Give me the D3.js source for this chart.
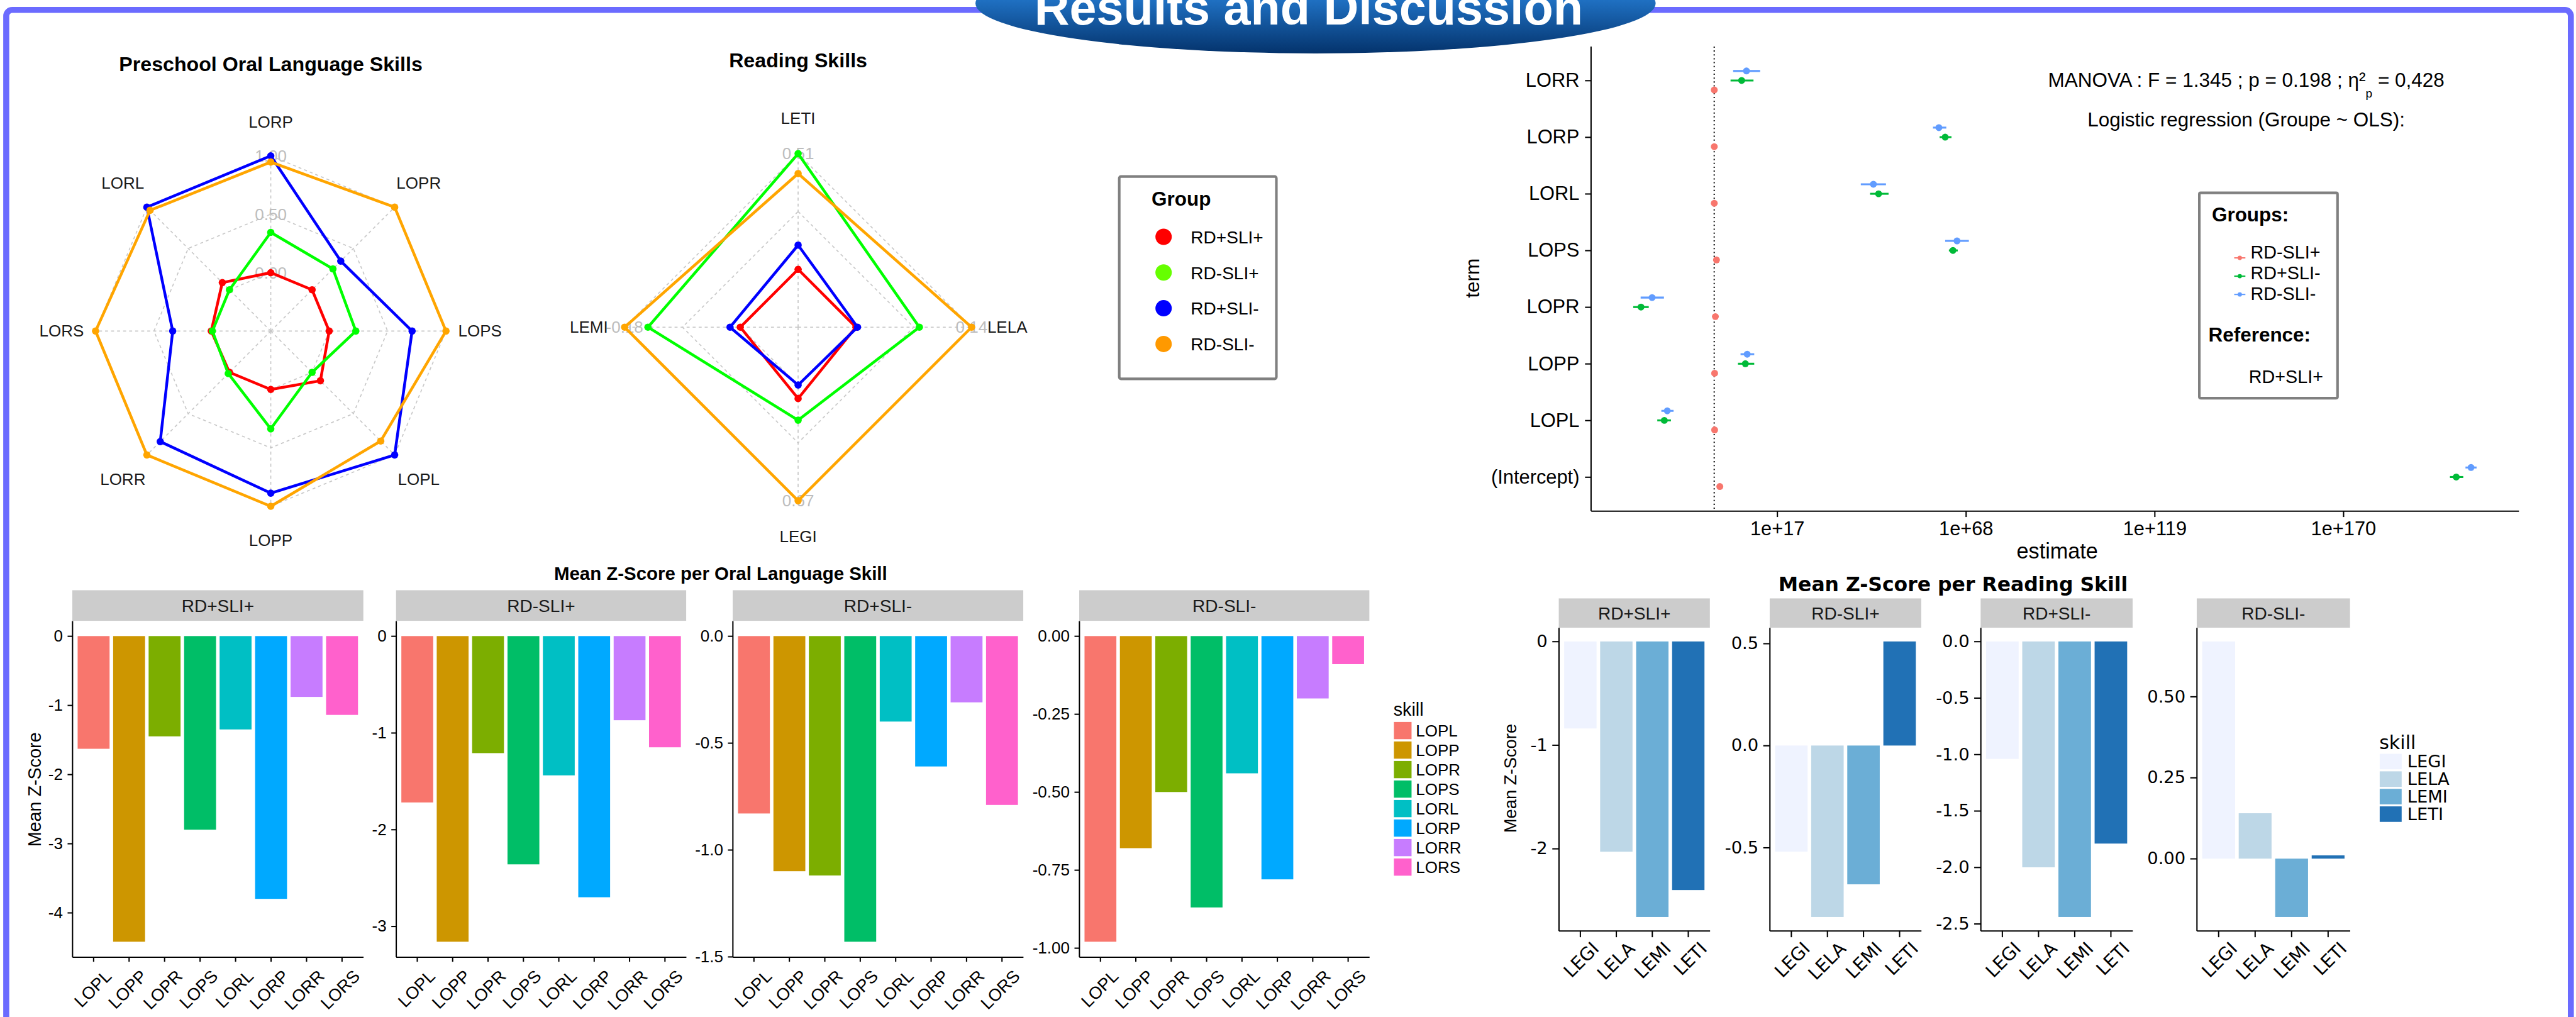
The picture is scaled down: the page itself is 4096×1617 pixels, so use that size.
<!DOCTYPE html>
<html>
<head>
<meta charset="utf-8">
<script src="https://cdn.jsdelivr.net/npm/d3@7"></script>
<style>
  html, body { margin: 0; padding: 0; background: #fff; overflow: hidden; }
  svg { display: block; }
</style>
</head>
<body>
<svg id="poster" width="4096" height="1617"></svg>
<script>
// ---------------- data ----------------
const groups = ["RD+SLI+", "RD-SLI+", "RD+SLI-", "RD-SLI-"];
const radarColors = ["#ff0000", "#00ff00", "#0000ff", "#ffa500"];
const legendDotColors = ["#ff0000", "#66ff00", "#0000ff", "#ff9900"];

// mean z-scores, oral language skills
const oralSkills = ["LOPL", "LOPP", "LOPR", "LOPS", "LORL", "LORP", "LORR", "LORS"];
const oralColors = ["#F8766D", "#CD9600", "#7CAE00", "#00BE67", "#00BFC4", "#00A9FF", "#C77CFF", "#FF61CC"];
const oralRDpSLIp = [-1.63, -4.42, -1.45, -2.80, -1.35, -3.80, -0.88, -1.14];
const oralRDmSLIp = [-1.72, -3.16, -1.21, -2.36, -1.44, -2.70, -0.87, -1.15];
const oralRDpSLIm = [-0.83, -1.10, -1.12, -1.43, -0.40, -0.61, -0.31, -0.79];
const oralRDmSLIm = [-0.98, -0.68, -0.50, -0.87, -0.44, -0.78, -0.20, -0.09];
const oralTicksP1 = ["0", "-1", "-2", "-3", "-4"];
const oralTicksP2 = ["0", "-1", "-2", "-3"];
const oralTicksP3 = ["0.0", "-0.5", "-1.0", "-1.5"];
const oralTicksP4 = ["0.00", "-0.25", "-0.50", "-0.75", "-1.00"];

// mean z-scores, reading skills
const readSkills = ["LEGI", "LELA", "LEMI", "LETI"];
const readColors = ["#EFF3FF", "#BDD7E7", "#6BAED6", "#2171B5"];
const readRDpSLIp = [-0.84, -2.03, -2.66, -2.40];
const readRDmSLIp = [-0.52, -0.84, -0.68, 0.51];
const readRDpSLIm = [-1.04, -2.00, -2.44, -1.79];
const readRDmSLIm = [0.67, 0.14, -0.18, 0.01];
const readTicksP1 = ["0", "-1", "-2"];
const readTicksP2 = ["0.5", "0.0", "-0.5"];
const readTicksP3 = ["0.0", "-0.5", "-1.0", "-1.5", "-2.0", "-2.5"];
const readTicksP4 = ["0.00", "0.25", "0.50"];

// radar axis order (clockwise from the top)
const oralRadarAxes = ["LORP", "LOPR", "LOPS", "LOPL", "LOPP", "LORR", "LORS", "LORL"];
const readRadarAxes = ["LETI", "LELA", "LEGI", "LEMI"];
const oralRadarGridLabels = ["0.00", "0.50", "1.00"];

// logistic regression: log10 of the estimates with their intervals
const terms = ["(Intercept)", "LOPL", "LOPP", "LOPR", "LOPS", "LORL", "LORP", "LORR"];
const forestGroups = ["RD-SLI+", "RD+SLI-", "RD-SLI-"];
const forestColors = ["#F8766D", "#00BA38", "#619CFF"];
const estRDmSLIp = [1.5, 0.1, 0.1, 0.3, 0.6, 0.0, 0.0, 0.0];
const loRDmSLIp  = [1.4, 0.0, 0.0, 0.2, 0.5, -0.1, -0.1, -0.1];
const hiRDmSLIp  = [1.6, 0.2, 0.2, 0.4, 0.7, 0.1, 0.1, 0.1];
const estRDpSLIm = [200.5, -13.5, 8.4, -19.8, 64.5, 44.4, 62.4, 7.4];
const loRDpSLIm  = [198.8, -15.4, 6.4, -21.9, 63.4, 42.1, 60.9, 4.4];
const hiRDpSLIm  = [202.4, -11.7, 10.8, -17.7, 65.8, 47.1, 64.1, 10.6];
const estRDmSLIm = [204.5, -12.7, 8.9, -16.8, 65.6, 43.0, 60.7, 8.7];
const loRDmSLIm  = [203.0, -14.3, 7.1, -19.9, 62.4, 39.6, 59.1, 5.1];
const hiRDmSLIm  = [206.0, -11.0, 10.8, -13.6, 68.8, 46.4, 62.7, 12.4];
const forestTickLabels = ["1e+17", "1e+68", "1e+119", "1e+170"];

// ---------------- setup ----------------
const K = 4096 / 5984;
const SANS = "'Liberation Sans', Arial, Helvetica, sans-serif";
const WIDE = "'DejaVu Sans', Verdana, sans-serif";
const svg = d3.select("#poster");
const defs = svg.append("defs");
const root = svg.append("g").attr("transform", `scale(${K})`);

function txt(g, x, y, s, size, opts = {}) {
  return g.append("text")
    .attr("x", x).attr("y", y)
    .attr("font-family", opts.family || SANS)
    .attr("font-size", size)
    .attr("font-weight", opts.weight || "normal")
    .attr("text-anchor", opts.anchor || "start")
    .attr("dominant-baseline", opts.baseline || "auto")
    .attr("fill", opts.fill || "#000")
    .text(s);
}

// ---------------- frame and banner ----------------
root.append("rect")
  .attr("x", 14.5).attr("y", 23).attr("width", 5957.5).attr("height", 2420)
  .attr("rx", 14).attr("fill", "none")
  .attr("stroke", "#6b6bff").attr("stroke-width", 14);

const grad = defs.append("linearGradient").attr("id", "bannerFill")
  .attr("gradientUnits", "userSpaceOnUse")
  .attr("x1", 0).attr("y1", 0).attr("x2", 0).attr("y2", 124);
grad.append("stop").attr("offset", "0%").attr("stop-color", "#1f70c2");
grad.append("stop").attr("offset", "100%").attr("stop-color", "#04336c");
root.append("ellipse")
  .attr("cx", 3056).attr("cy", 8).attr("rx", 790).attr("ry", 116)
  .attr("fill", "url(#bannerFill)");
txt(root, 3040, 57, "Results and Discussion", 113, { weight: "bold", anchor: "middle", fill: "#fff" });

// ---------------- radar charts ----------------
function rescaleColumns(axes, skills, series) {
  // each axis is rescaled to 0..1 over the four groups
  return series.map(vals => axes.map(a => {
    const k = skills.indexOf(a);
    const col = series.map(s => s[k]);
    const lo = d3.min(col), hi = d3.max(col);
    return (vals[k] - lo) / (hi - lo);
  }));
}

function drawRadar(opt) {
  const g = root.append("g");
  const { cx, cy, R, axes, data, title, titleY } = opt;
  const n = axes.length;
  const r = d3.scaleLinear().domain([-0.5, 1]).range([0, R]);
  const ang = i => i * 2 * Math.PI / n;
  const pt = (i, rad) => [cx + rad * Math.sin(ang(i)), cy - rad * Math.cos(ang(i))];

  txt(g, cx, titleY, title, 47, { weight: "bold", anchor: "middle" });

  // grid
  [0, 0.5, 1].forEach(v => {
    g.append("path")
      .attr("d", d3.line().curve(d3.curveLinearClosed)(d3.range(n).map(i => pt(i, r(v)))))
      .attr("fill", "none").attr("stroke", "#c8c8c8").attr("stroke-width", 2.4)
      .attr("stroke-dasharray", "7 7");
  });
  d3.range(n).forEach(i => {
    const [x2, y2] = pt(i, R);
    g.append("line").attr("x1", cx).attr("y1", cy).attr("x2", x2).attr("y2", y2)
      .attr("stroke", "#c8c8c8").attr("stroke-width", 2.4).attr("stroke-dasharray", "7 7");
  });

  // grid labels
  opt.gridLabels.forEach(gl => {
    const [x, y] = pt(gl.axis, r(gl.v));
    txt(g, x, y, gl.text, 38, { anchor: "middle", baseline: "central", fill: "#bdbdbd" });
  });

  // axis labels
  axes.forEach((a, i) => {
    const [x, y] = pt(i, 486);
    txt(g, x, y, a, 38, { anchor: "middle", baseline: "central", fill: "#1a1a1a" });
  });

  // group polygons
  data.forEach((vals, gi) => {
    const pts = vals.map((v, i) => pt(i, r(v)));
    g.append("path")
      .attr("d", d3.line().curve(d3.curveLinearClosed)(pts))
      .attr("fill", "none").attr("stroke", radarColors[gi]).attr("stroke-width", 6.5)
      .attr("stroke-linejoin", "round");
    g.selectAll(null).data(pts).join("circle")
      .attr("cx", d => d[0]).attr("cy", d => d[1]).attr("r", 8.5)
      .attr("fill", radarColors[gi]);
  });
}

const oralSeries = [oralRDpSLIp, oralRDmSLIp, oralRDpSLIm, oralRDmSLIm];
const readSeries = [readRDpSLIp, readRDmSLIp, readRDpSLIm, readRDmSLIm];

drawRadar({
  cx: 629, cy: 769, R: 407, axes: oralRadarAxes,
  data: rescaleColumns(oralRadarAxes, oralSkills, oralSeries),
  title: "Preschool Oral Language Skills", titleY: 165,
  gridLabels: oralRadarGridLabels.map(s => ({ axis: 0, v: +s, text: s }))
});

drawRadar({
  cx: 1854, cy: 760, R: 403, axes: readRadarAxes,
  data: rescaleColumns(readRadarAxes, readSkills, readSeries),
  title: "Reading Skills", titleY: 156,
  gridLabels: readRadarAxes.map((a, i) => {
    const k = readSkills.indexOf(a);
    return { axis: i, v: 1, text: d3.max(readSeries, s => s[k]).toFixed(2) };
  })
});

// group legend
{
  const g = root.append("g");
  g.append("rect").attr("x", 2600).attr("y", 410).attr("width", 365).attr("height", 470)
    .attr("rx", 4).attr("fill", "#fff").attr("stroke", "#808080").attr("stroke-width", 6);
  txt(g, 2675, 477, "Group", 46, { weight: "bold" });
  groups.forEach((gr, i) => {
    const y = 550 + i * 83;
    g.append("circle").attr("cx", 2703).attr("cy", y).attr("r", 19).attr("fill", legendDotColors[i]);
    txt(g, 2766, y + 15, gr, 41);
  });
}

// ---------------- bar panels ----------------
function styleAxis(a, size, family) {
  a.attr("font-size", size).attr("font-family", family).attr("color", "#000");
  a.selectAll("path, line").attr("stroke-width", 3);
}

function barPanel(opt) {
  const g = root.append("g");
  const { x0, x1, top, bottom, stripTop, cats, colors, values, label, ticks } = opt;
  const x = d3.scaleBand().domain(cats).range([x0, x1]).paddingInner(0.1).paddingOuter(0.15);
  const lo = Math.min(0, d3.min(values)), hi = Math.max(0, d3.max(values));
  const pad = (hi - lo) * 0.05;
  const y = d3.scaleLinear().domain([lo - pad, hi + pad]).range([bottom, top]);

  g.append("rect").attr("x", x0).attr("y", stripTop).attr("width", x1 - x0)
    .attr("height", top - stripTop).attr("fill", "#cccccc");
  txt(g, (x0 + x1) / 2, (stripTop + top) / 2 + 15, label, 41, { anchor: "middle", fill: "#1a1a1a" });

  g.selectAll(null).data(cats).join("rect")
    .attr("x", d => x(d)).attr("width", x.bandwidth())
    .attr("y", (d, i) => y(Math.max(0, values[i])))
    .attr("height", (d, i) => Math.abs(y(values[i]) - y(0)))
    .attr("fill", (d, i) => colors[i]);

  const ya = g.append("g").attr("transform", `translate(${x0},0)`)
    .call(d3.axisLeft(y).tickValues(ticks.map(Number)).tickFormat((d, i) => ticks[i])
      .tickSize(opt.tickLen).tickPadding(opt.tickPad).tickSizeOuter(0));
  styleAxis(ya, opt.tickSize, opt.tickFamily);

  const xa = g.append("g").attr("transform", `translate(0,${bottom})`)
    .call(d3.axisBottom(x).tickSize(opt.tickLen).tickSizeOuter(0));
  styleAxis(xa, opt.xSize, opt.tickFamily);
  xa.selectAll(".tick text")
    .attr("y", 0).attr("dy", 0).attr("text-anchor", "end")
    .attr("transform", `translate(${opt.labDx},${opt.labDy}) rotate(-45)`);
}

// oral language panels
const oralPanels = [[168, 844], [920, 1594], [1702, 2377], [2507, 3181]];
const oralTicks = [oralTicksP1, oralTicksP2, oralTicksP3, oralTicksP4];
oralSeries.forEach((vals, i) => barPanel({
  x0: oralPanels[i][0], x1: oralPanels[i][1], top: 1442, bottom: 2223, stripTop: 1371,
  cats: oralSkills, colors: oralColors, values: vals, label: groups[i], ticks: oralTicks[i],
  tickLen: 11, tickPad: 11, tickSize: 38, xSize: 40, tickFamily: SANS, labDx: 44, labDy: 47
}));
txt(root, 1674, 1347, "Mean Z-Score per Oral Language Skill", 43, { weight: "bold", anchor: "middle" });
txt(root, 0, 0, "Mean Z-Score", 42, { anchor: "middle", baseline: "central" })
  .attr("transform", "translate(81,1834) rotate(-90)");
{
  const g = root.append("g");
  txt(g, 3237, 1662, "skill", 42);
  oralSkills.forEach((s, i) => {
    const y = 1677 + i * 45.3;
    g.append("rect").attr("x", 3238).attr("y", y).attr("width", 41).attr("height", 40).attr("fill", oralColors[i]);
    txt(g, 3289, y + 34, s, 38);
  });
}

// reading panels
const readPanels = [[3621, 3972], [4111, 4463], [4601, 4954], [5103, 5459]];
const readTicks = [readTicksP1, readTicksP2, readTicksP3, readTicksP4];
readSeries.forEach((vals, i) => barPanel({
  x0: readPanels[i][0], x1: readPanels[i][1], top: 1458, bottom: 2162, stripTop: 1390,
  cats: readSkills, colors: readColors, values: vals, label: groups[i], ticks: readTicks[i],
  tickLen: 15, tickPad: 11, tickSize: 40, xSize: 42, tickFamily: WIDE, labDx: 46, labDy: 44
}));
txt(root, 4537, 1373, "Mean Z-Score per Reading Skill", 46, { weight: "bold", anchor: "middle", family: WIDE });
txt(root, 0, 0, "Mean Z-Score", 40, { anchor: "middle", baseline: "central" })
  .attr("transform", "translate(3508,1808) rotate(-90)");
{
  const g = root.append("g");
  txt(g, 5527, 1740, "skill", 44, { family: WIDE });
  readSkills.forEach((s, i) => {
    const y = 1751 + i * 40.7;
    g.append("rect").attr("x", 5528).attr("y", y).attr("width", 51).attr("height", 36).attr("fill", readColors[i]);
    txt(g, 5592, y + 32, s, 40, { family: WIDE });
  });
}

// ---------------- logistic regression estimates ----------------
{
  const g = root.append("g");
  const left = 3696, right = 5851, top = 108, bottom = 1187;
  const est = [estRDmSLIp, estRDpSLIm, estRDmSLIm];
  const lo = [loRDmSLIp, loRDpSLIm, loRDmSLIm];
  const hi = [hiRDmSLIp, hiRDpSLIm, hiRDmSLIm];
  const eMin = d3.min(lo.flat()), eMax = d3.max(hi.flat());
  const pad = (eMax - eMin) * 0.05;
  const x = d3.scaleLog().domain([10 ** (eMin - pad), 10 ** (eMax + pad)]).range([left, right]);
  const y = d3.scalePoint().domain(terms).range([bottom, top]).padding(0.6);
  const dodge = y.step() * 0.168;

  // reference line at an estimate of 1
  g.append("line").attr("x1", x(1)).attr("x2", x(1)).attr("y1", top).attr("y2", bottom)
    .attr("stroke", "#333").attr("stroke-width", 3.5).attr("stroke-dasharray", "3 6");

  est.forEach((vals, gi) => {
    const off = (1 - gi) * dodge;
    terms.forEach((t, k) => {
      const yy = y(t) + off;
      g.append("line").attr("x1", x(10 ** lo[gi][k])).attr("x2", x(10 ** hi[gi][k]))
        .attr("y1", yy).attr("y2", yy).attr("stroke", forestColors[gi]).attr("stroke-width", 4.5);
      g.append("circle").attr("cx", x(10 ** vals[k])).attr("cy", yy).attr("r", 8)
        .attr("fill", forestColors[gi]);
    });
  });

  const ya = g.append("g").attr("transform", `translate(${left},0)`)
    .call(d3.axisLeft(y).tickSize(14).tickPadding(13).tickSizeOuter(0));
  styleAxis(ya, 45, SANS);
  ya.select(".domain").attr("d", `M0,${top}V${bottom}`);

  const xa = g.append("g").attr("transform", `translate(0,${bottom})`)
    .call(d3.axisBottom(x).tickValues(forestTickLabels.map(Number))
      .tickFormat((d, i) => forestTickLabels[i]).tickSize(14).tickPadding(11).tickSizeOuter(0));
  styleAxis(xa, 45, SANS);

  txt(g, 0, 0, "term", 46, { anchor: "middle", baseline: "central" })
    .attr("transform", "translate(3421,646) rotate(-90)");
  txt(g, 4779, 1280, "estimate", 50, { anchor: "middle", baseline: "central" });

  // statistics header
  const m = g.append("text").attr("x", 5218).attr("y", 202).attr("text-anchor", "middle")
    .attr("font-family", SANS).attr("font-size", 46).attr("fill", "#000");
  m.append("tspan").text("MANOVA : F = 1.345 ; p = 0.198 ; \u03b7\u00b2");
  m.append("tspan").attr("font-size", 28).attr("dy", 24).text("p");
  m.append("tspan").attr("dy", -24).text(" = 0,428");
  txt(g, 5218, 293, "Logistic regression (Groupe ~ OLS):", 46, { anchor: "middle" });

  // groups legend
  g.append("rect").attr("x", 5109).attr("y", 448).attr("width", 321).attr("height", 477)
    .attr("rx", 3).attr("fill", "#fff").attr("stroke", "#808080").attr("stroke-width", 6);
  txt(g, 5138, 514, "Groups:", 46, { weight: "bold" });
  forestGroups.forEach((gr, i) => {
    const yy = 599 + i * 42.5;
    g.append("line").attr("x1", 5190).attr("x2", 5216).attr("y1", yy).attr("y2", yy)
      .attr("stroke", forestColors[i]).attr("stroke-width", 3);
    g.append("circle").attr("cx", 5203).attr("cy", yy).attr("r", 5).attr("fill", forestColors[i]);
    txt(g, 5228, 601 + i * 48, gr, 42);
  });
  txt(g, 5130, 793, "Reference:", 46, { weight: "bold" });
  txt(g, 5224, 890, "RD+SLI+", 42);
}
</script>
</body>
</html>
